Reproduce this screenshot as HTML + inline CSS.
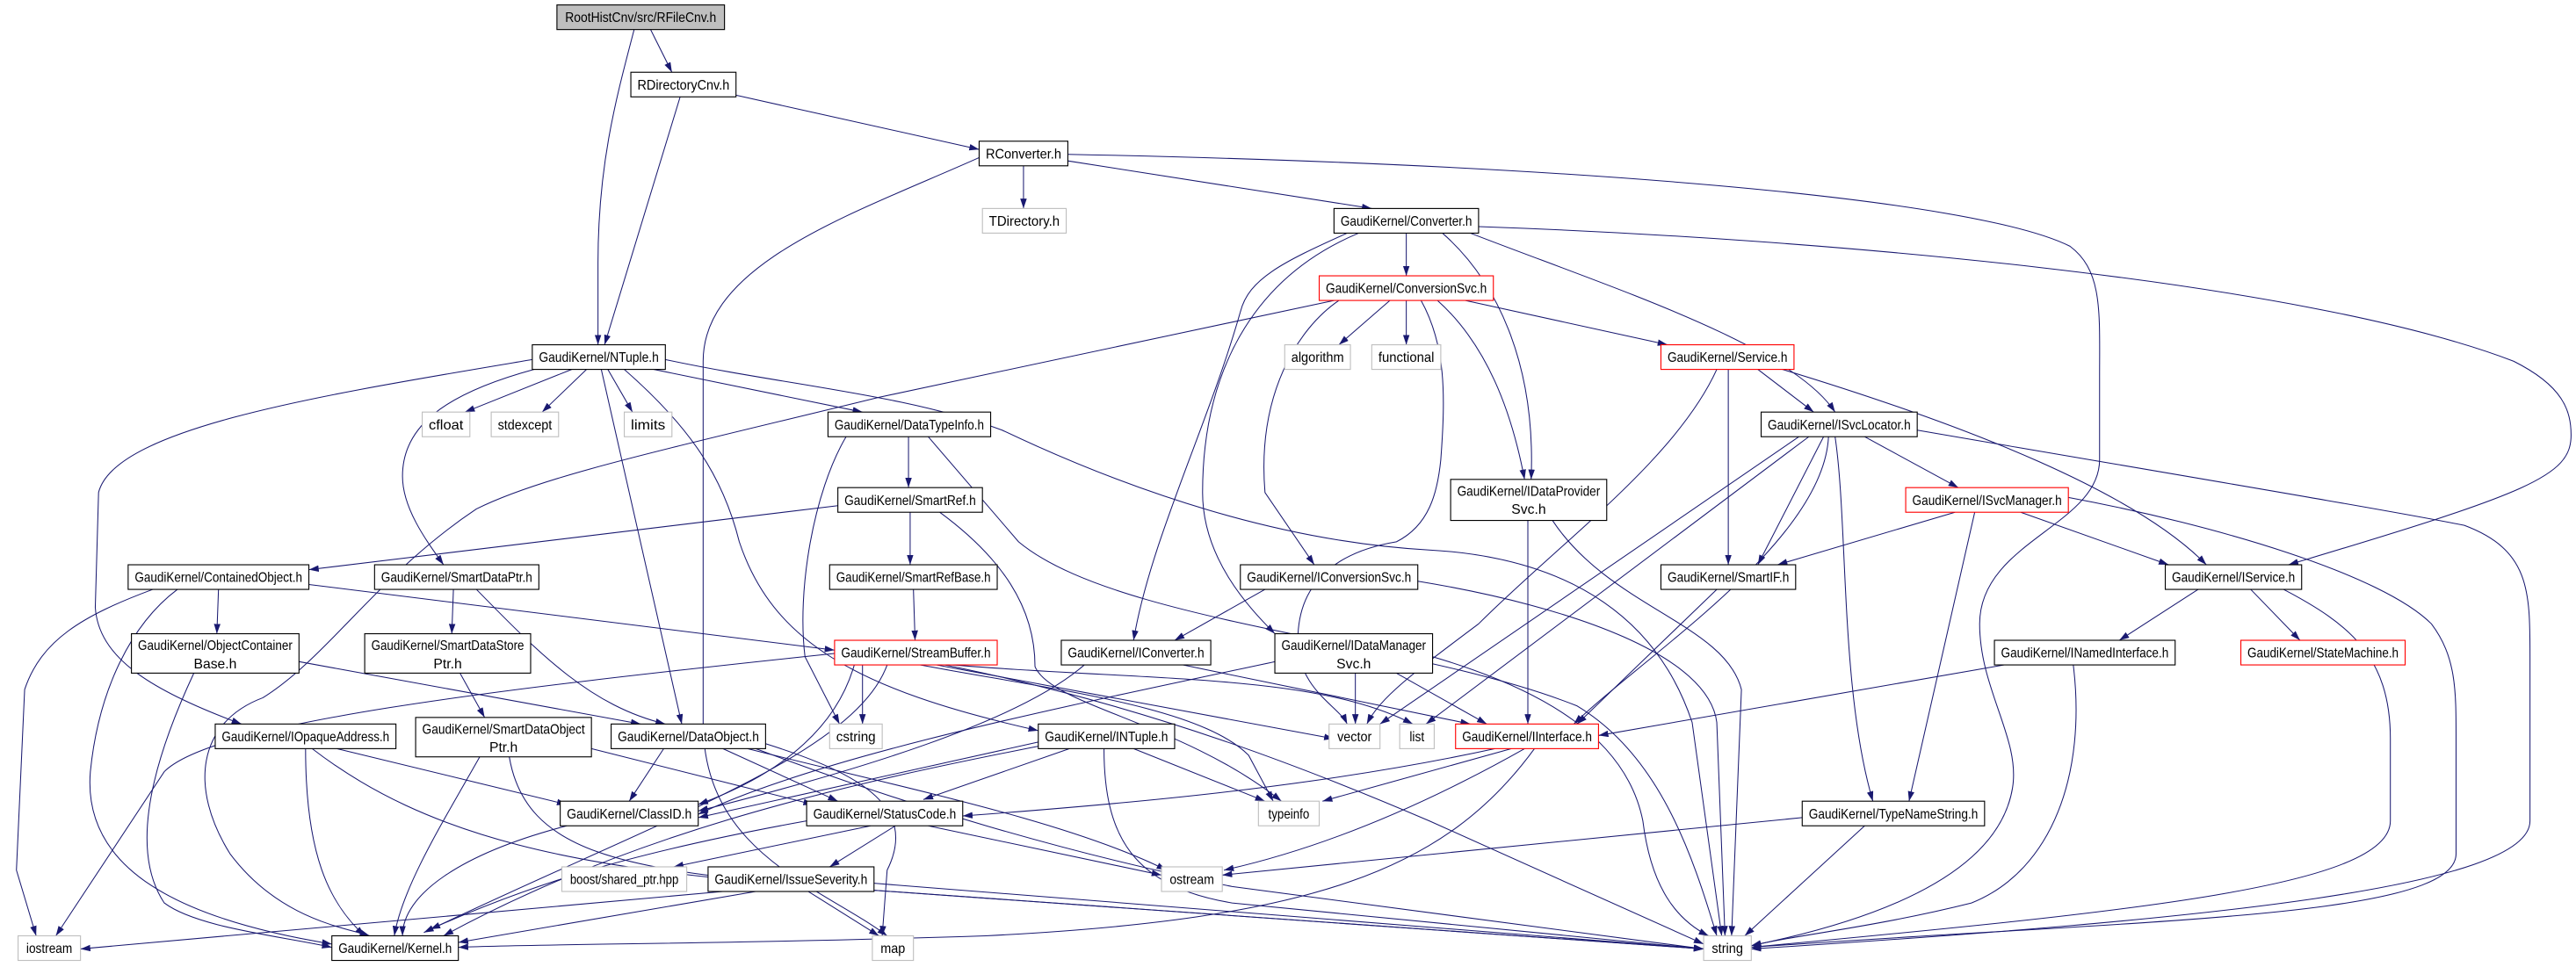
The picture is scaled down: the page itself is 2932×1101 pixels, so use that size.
<!DOCTYPE html>
<html><head><meta charset="utf-8"><style>
html,body{margin:0;padding:0;background:#fff;width:2932px;height:1101px;overflow:hidden}
svg{display:block}
text{font-family:"Liberation Sans",sans-serif;font-size:8.4px;fill:#000;text-anchor:middle}
.e path{fill:none;stroke:#191970;stroke-width:0.55}
rect{stroke-width:0.6}
.b{fill:#fff;stroke:#000}.g{fill:#fff;stroke:#bfbfbf}.r{fill:#fff;stroke:#ff0000}.s{fill:#bfbfbf;stroke:#000}
</style></head><body>
<svg width="2932" height="1101" viewBox="0 0 1568 589" preserveAspectRatio="none" xmlns="http://www.w3.org/2000/svg">
<defs><marker id="a" markerUnits="userSpaceOnUse" markerWidth="6" markerHeight="4" refX="6" refY="2" orient="auto"><path d="M0,0 L6,2 L0,4 z" fill="#191970"/></marker></defs>
<g class="e" marker-end="url(#a)">
<path d="M396 18 L409 44" marker-end="url(#a)"/>
<path d="M386 18 C375 60,364 100,364 160 L364 210" marker-end="url(#a)"/>
<path d="M414 59 L368 210" marker-end="url(#a)"/>
<path d="M448 58 L596 91" marker-end="url(#a)"/>
<path d="M623 101 L623 127" marker-end="url(#a)"/>
<path d="M650 98 L835 127" marker-end="url(#a)"/>
<path d="M596 96 C520 130,428 160,428 220 L428 440 C428 520,500 540,540 570" marker-end="url(#a)"/>
<path d="M650 94 C950 100,1200 120,1260 150 C1280 165,1278 190,1278 230 L1278 280 C1278 320,1205 330,1205 380 C1205 420,1230 450,1225 480 C1215 540,1120 565,1066 576" marker-end="url(#a)"/>
<path d="M856 142 L856 168" marker-end="url(#a)"/>
<path d="M878 142 C910 170,935 220,932 292" marker-end="url(#a)"/>
<path d="M895 142 C980 175,1090 210,1117 251" marker-end="url(#a)"/>
<path d="M900 138 C1100 145,1400 170,1530 220 C1560 235,1565 250,1565 265 C1565 290,1540 300,1393 344" marker-end="url(#a)"/>
<path d="M820 142 C780 160,760 170,755 190 C735 260,700 330,690 390" marker-end="url(#a)"/>
<path d="M827 142 C760 170,732 230,732 300 C732 340,760 370,776 386" marker-end="url(#a)"/>
<path d="M846 183 L815 210" marker-end="url(#a)"/>
<path d="M856 183 L856 210" marker-end="url(#a)"/>
<path d="M892 183 L1015 210" marker-end="url(#a)"/>
<path d="M875 183 C905 210,920 250,928 292" marker-end="url(#a)"/>
<path d="M815 183 C790 200,765 240,770 300 L800 344" marker-end="url(#a)"/>
<path d="M812 183 L535 242 C400 275,330 290,290 310 C230 350,200 400,160 425 C120 440,115 480,140 520 C170 560,210 565,225 570" marker-end="url(#a)"/>
<path d="M865 183 C880 210,880 240,877 280 C875 300,870 320,850 330 C820 335,790 350,790 390 C790 420,815 430,820 441" marker-end="url(#a)"/>
<path d="M1070 225 L1104 251" marker-end="url(#a)"/>
<path d="M1052 225 L1052 344" marker-end="url(#a)"/>
<path d="M1085 225 C1200 260,1300 300,1343 344" marker-end="url(#a)"/>
<path d="M1045 225 C1020 280,950 330,900 380 C860 410,840 425,832 441" marker-end="url(#a)"/>
<path d="M348 225 L283 251" marker-end="url(#a)"/>
<path d="M357 225 L330 251" marker-end="url(#a)"/>
<path d="M370 225 L385 251" marker-end="url(#a)"/>
<path d="M398 225 L525 251" marker-end="url(#a)"/>
<path d="M324 219 C200 240,70 260,60 300 L58 370 C60 400,90 420,147 441" marker-end="url(#a)"/>
<path d="M325 225 C270 240,245 260,245 290 C245 310,260 330,270 344" marker-end="url(#a)"/>
<path d="M366 225 L415 441" marker-end="url(#a)"/>
<path d="M380 225 C420 260,440 290,450 330 C470 390,520 420,632 445" marker-end="url(#a)"/>
<path d="M405 219 C480 235,550 240,610 262 C690 300,780 330,870 335 C960 340,1010 380,1030 440 L1048 570" marker-end="url(#a)"/>
<path d="M553 266 L553 297" marker-end="url(#a)"/>
<path d="M515 266 C495 300,485 360,490 400 L511 441" marker-end="url(#a)"/>
<path d="M565 266 L620 330 C680 380,860 390,960 430 C1010 460,1030 520,1045 570" marker-end="url(#a)"/>
<path d="M554 312 L554 344" marker-end="url(#a)"/>
<path d="M510 308 L188 347" marker-end="url(#a)"/>
<path d="M572 312 C610 340,630 370,630 406 C640 430,720 440,780 488" marker-end="url(#a)"/>
<path d="M556 359 L557 390" marker-end="url(#a)"/>
<path d="M133 359 L132 386" marker-end="url(#a)"/>
<path d="M188 356 L508 396" marker-end="url(#a)"/>
<path d="M93 359 C50 375,25 390,15 420 L10 530 L22 570" marker-end="url(#a)"/>
<path d="M108 359 C80 380,60 420,55 470 C50 530,110 560,202 575" marker-end="url(#a)"/>
<path d="M276 359 L275 386" marker-end="url(#a)"/>
<path d="M290 359 C330 400,360 430,405 441" marker-end="url(#a)"/>
<path d="M182 403 L390 441" marker-end="url(#a)"/>
<path d="M118 410 C90 470,80 520,100 550 C120 565,170 570,202 577" marker-end="url(#a)"/>
<path d="M280 410 L295 437" marker-end="url(#a)"/>
<path d="M292 461 C270 500,245 540,240 570" marker-end="url(#a)"/>
<path d="M310 461 C320 520,380 530,500 540 C700 555,900 570,1037 578" marker-end="url(#a)"/>
<path d="M360 456 L495 490" marker-end="url(#a)"/>
<path d="M508 398 C300 420,130 440,100 470 L34 570" marker-end="url(#a)"/>
<path d="M525 405 L525 441" marker-end="url(#a)"/>
<path d="M560 405 C640 420,730 430,760 460 L775 488" marker-end="url(#a)"/>
<path d="M570 405 L812 450" marker-end="url(#a)"/>
<path d="M580 405 C700 415,800 410,860 441" marker-end="url(#a)"/>
<path d="M575 405 C700 430,800 470,870 500 L1037 575" marker-end="url(#a)"/>
<path d="M540 405 C520 460,400 500,258 568" marker-end="url(#a)"/>
<path d="M520 405 C510 440,480 470,425 490" marker-end="url(#a)"/>
<path d="M720 405 L895 441" marker-end="url(#a)"/>
<path d="M660 405 C620 440,520 470,425 494" marker-end="url(#a)"/>
<path d="M770 359 L715 390" marker-end="url(#a)"/>
<path d="M863 354 C960 370,1040 400,1045 440 L1050 570" marker-end="url(#a)"/>
<path d="M930 317 L930 441" marker-end="url(#a)"/>
<path d="M945 317 C980 370,1050 380,1060 420 L1054 570" marker-end="url(#a)"/>
<path d="M825 410 L825 441" marker-end="url(#a)"/>
<path d="M850 410 L905 441" marker-end="url(#a)"/>
<path d="M872 400 C940 420,990 450,1000 500 C1005 540,1020 560,1040 570" marker-end="url(#a)"/>
<path d="M776 403 C650 430,500 460,425 496" marker-end="url(#a)"/>
<path d="M1095 266 L840 441" marker-end="url(#a)"/>
<path d="M1101 266 L868 441" marker-end="url(#a)"/>
<path d="M1110 266 L1070 344" marker-end="url(#a)"/>
<path d="M1113 266 C1110 330,1000 400,958 441" marker-end="url(#a)"/>
<path d="M1135 266 L1192 297" marker-end="url(#a)"/>
<path d="M1117 266 C1125 320,1120 420,1140 488" marker-end="url(#a)"/>
<path d="M1167 262 C1300 285,1450 310,1500 320 C1540 335,1540 360,1540 400 L1540 500 C1540 540,1350 560,1066 578" marker-end="url(#a)"/>
<path d="M1190 312 L1082 344" marker-end="url(#a)"/>
<path d="M1230 312 L1320 344" marker-end="url(#a)"/>
<path d="M1202 312 L1162 488" marker-end="url(#a)"/>
<path d="M1259 303 C1350 320,1450 350,1480 380 C1495 400,1495 420,1495 450 L1495 520 C1495 560,1300 560,1066 577" marker-end="url(#a)"/>
<path d="M1045 359 L960 441" marker-end="url(#a)"/>
<path d="M1338 359 L1290 390" marker-end="url(#a)"/>
<path d="M1370 359 L1400 390" marker-end="url(#a)"/>
<path d="M1390 359 C1430 380,1455 400,1455 450 L1455 500 C1455 540,1300 555,1066 577" marker-end="url(#a)"/>
<path d="M1220 405 L973 448" marker-end="url(#a)"/>
<path d="M1262 405 C1270 470,1250 530,1200 550 C1140 565,1090 570,1066 576" marker-end="url(#a)"/>
<path d="M205 456 L345 490" marker-end="url(#a)"/>
<path d="M186 456 C186 520,200 550,222 570" marker-end="url(#a)"/>
<path d="M190 456 C260 510,350 530,500 540 L1037 578" marker-end="url(#a)"/>
<path d="M404 456 L383 488" marker-end="url(#a)"/>
<path d="M440 456 L510 488" marker-end="url(#a)"/>
<path d="M455 456 C550 480,650 500,710 530" marker-end="url(#a)"/>
<path d="M460 456 C550 490,650 520,750 540 L1037 578" marker-end="url(#a)"/>
<path d="M466 453 C520 470,560 490,540 530 L537 570" marker-end="url(#a)"/>
<path d="M651 456 L562 487" marker-end="url(#a)"/>
<path d="M690 456 L770 488" marker-end="url(#a)"/>
<path d="M672 456 C672 510,690 540,750 550 L1037 578" marker-end="url(#a)"/>
<path d="M640 453 C500 480,380 510,270 570" marker-end="url(#a)"/>
<path d="M632 452 L425 498" marker-end="url(#a)"/>
<path d="M910 456 C800 480,680 490,586 497" marker-end="url(#a)"/>
<path d="M920 456 L805 488" marker-end="url(#a)"/>
<path d="M928 456 C850 500,790 520,745 530" marker-end="url(#a)"/>
<path d="M934 456 C880 530,800 560,600 570 C450 575,320 575,279 577" marker-end="url(#a)"/>
<path d="M345 503 C280 520,245 545,245 570" marker-end="url(#a)"/>
<path d="M530 503 L410 528" marker-end="url(#a)"/>
<path d="M545 503 L505 528" marker-end="url(#a)"/>
<path d="M565 503 L707 533" marker-end="url(#a)"/>
<path d="M491 500 C380 520,320 540,262 566" marker-end="url(#a)"/>
<path d="M440 543 L49 578" marker-end="url(#a)"/>
<path d="M460 543 L279 574" marker-end="url(#a)"/>
<path d="M492 543 L535 570" marker-end="url(#a)"/>
<path d="M532 538 L1037 578" marker-end="url(#a)"/>
<path d="M1097 498 L744 533" marker-end="url(#a)"/>
<path d="M1135 503 L1062 570" marker-end="url(#a)"/>
</g>
<g>
<rect class="s" x="339" y="3" width="102" height="15"/><text x="390" y="13.5" textLength="92" lengthAdjust="spacingAndGlyphs">RootHistCnv/src/RFileCnv.h</text>
<rect class="b" x="384" y="44" width="64" height="15"/><text x="416" y="54.5" textLength="56" lengthAdjust="spacingAndGlyphs">RDirectoryCnv.h</text>
<rect class="b" x="596" y="86" width="54" height="15"/><text x="623" y="96.5" textLength="46" lengthAdjust="spacingAndGlyphs">RConverter.h</text>
<rect class="g" x="598" y="127" width="51" height="15"/><text x="623.5" y="137.5" textLength="43" lengthAdjust="spacingAndGlyphs">TDirectory.h</text>
<rect class="b" x="812" y="127" width="88" height="15"/><text x="856" y="137.5" textLength="80" lengthAdjust="spacingAndGlyphs">GaudiKernel/Converter.h</text>
<rect class="r" x="803" y="168" width="106" height="15"/><text x="856" y="178.5" textLength="98" lengthAdjust="spacingAndGlyphs">GaudiKernel/ConversionSvc.h</text>
<rect class="g" x="782" y="210" width="40" height="15"/><text x="802" y="220.5" textLength="32" lengthAdjust="spacingAndGlyphs">algorithm</text>
<rect class="g" x="835" y="210" width="42" height="15"/><text x="856" y="220.5" textLength="34" lengthAdjust="spacingAndGlyphs">functional</text>
<rect class="r" x="1011" y="210" width="81" height="15"/><text x="1051.5" y="220.5" textLength="73" lengthAdjust="spacingAndGlyphs">GaudiKernel/Service.h</text>
<rect class="b" x="324" y="210" width="81" height="15"/><text x="364.5" y="220.5" textLength="73" lengthAdjust="spacingAndGlyphs">GaudiKernel/NTuple.h</text>
<rect class="g" x="257" y="251" width="29" height="15"/><text x="271.5" y="261.5" textLength="21" lengthAdjust="spacingAndGlyphs">cfloat</text>
<rect class="g" x="299" y="251" width="41" height="15"/><text x="319.5" y="261.5" textLength="33" lengthAdjust="spacingAndGlyphs">stdexcept</text>
<rect class="g" x="380" y="251" width="29" height="15"/><text x="394.5" y="261.5" textLength="21" lengthAdjust="spacingAndGlyphs">limits</text>
<rect class="b" x="504" y="251" width="99" height="15"/><text x="553.5" y="261.5" textLength="91" lengthAdjust="spacingAndGlyphs">GaudiKernel/DataTypeInfo.h</text>
<rect class="b" x="1072" y="251" width="95" height="15"/><text x="1119.5" y="261.5" textLength="87" lengthAdjust="spacingAndGlyphs">GaudiKernel/ISvcLocator.h</text>
<rect class="b" x="883" y="292" width="95" height="25"/><text x="930.5" y="302" textLength="87" lengthAdjust="spacingAndGlyphs">GaudiKernel/IDataProvider</text><text x="930.5" y="313">Svc.h</text>
<rect class="b" x="510" y="297" width="88" height="15"/><text x="554" y="307.5" textLength="80" lengthAdjust="spacingAndGlyphs">GaudiKernel/SmartRef.h</text>
<rect class="r" x="1160" y="297" width="99" height="15"/><text x="1209.5" y="307.5" textLength="91" lengthAdjust="spacingAndGlyphs">GaudiKernel/ISvcManager.h</text>
<rect class="b" x="78" y="344" width="110" height="15"/><text x="133" y="354.5" textLength="102" lengthAdjust="spacingAndGlyphs">GaudiKernel/ContainedObject.h</text>
<rect class="b" x="228" y="344" width="100" height="15"/><text x="278" y="354.5" textLength="92" lengthAdjust="spacingAndGlyphs">GaudiKernel/SmartDataPtr.h</text>
<rect class="b" x="505" y="344" width="102" height="15"/><text x="556" y="354.5" textLength="94" lengthAdjust="spacingAndGlyphs">GaudiKernel/SmartRefBase.h</text>
<rect class="b" x="755" y="344" width="108" height="15"/><text x="809" y="354.5" textLength="100" lengthAdjust="spacingAndGlyphs">GaudiKernel/IConversionSvc.h</text>
<rect class="b" x="1011" y="344" width="82" height="15"/><text x="1052" y="354.5" textLength="74" lengthAdjust="spacingAndGlyphs">GaudiKernel/SmartIF.h</text>
<rect class="b" x="1318" y="344" width="83" height="15"/><text x="1359.5" y="354.5" textLength="75" lengthAdjust="spacingAndGlyphs">GaudiKernel/IService.h</text>
<rect class="b" x="80" y="386" width="102" height="24"/><text x="131" y="396" textLength="94" lengthAdjust="spacingAndGlyphs">GaudiKernel/ObjectContainer</text><text x="131" y="407">Base.h</text>
<rect class="b" x="222" y="386" width="101" height="24"/><text x="272.5" y="396" textLength="93" lengthAdjust="spacingAndGlyphs">GaudiKernel/SmartDataStore</text><text x="272.5" y="407">Ptr.h</text>
<rect class="r" x="508" y="390" width="99" height="15"/><text x="557.5" y="400.5" textLength="91" lengthAdjust="spacingAndGlyphs">GaudiKernel/StreamBuffer.h</text>
<rect class="b" x="646" y="390" width="91" height="15"/><text x="691.5" y="400.5" textLength="83" lengthAdjust="spacingAndGlyphs">GaudiKernel/IConverter.h</text>
<rect class="b" x="776" y="386" width="96" height="24"/><text x="824" y="396" textLength="88" lengthAdjust="spacingAndGlyphs">GaudiKernel/IDataManager</text><text x="824" y="407">Svc.h</text>
<rect class="b" x="1214" y="390" width="110" height="15"/><text x="1269" y="400.5" textLength="102" lengthAdjust="spacingAndGlyphs">GaudiKernel/INamedInterface.h</text>
<rect class="r" x="1364" y="390" width="100" height="15"/><text x="1414" y="400.5" textLength="92" lengthAdjust="spacingAndGlyphs">GaudiKernel/StateMachine.h</text>
<rect class="b" x="131" y="441" width="110" height="15"/><text x="186" y="451.5" textLength="102" lengthAdjust="spacingAndGlyphs">GaudiKernel/IOpaqueAddress.h</text>
<rect class="b" x="253" y="437" width="107" height="24"/><text x="306.5" y="447" textLength="99" lengthAdjust="spacingAndGlyphs">GaudiKernel/SmartDataObject</text><text x="306.5" y="458">Ptr.h</text>
<rect class="b" x="372" y="441" width="94" height="15"/><text x="419" y="451.5" textLength="86" lengthAdjust="spacingAndGlyphs">GaudiKernel/DataObject.h</text>
<rect class="g" x="505" y="441" width="32" height="15"/><text x="521" y="451.5" textLength="24" lengthAdjust="spacingAndGlyphs">cstring</text>
<rect class="b" x="632" y="441" width="83" height="15"/><text x="673.5" y="451.5" textLength="75" lengthAdjust="spacingAndGlyphs">GaudiKernel/INTuple.h</text>
<rect class="g" x="809" y="441" width="31" height="15"/><text x="824.5" y="451.5" textLength="21" lengthAdjust="spacingAndGlyphs">vector</text>
<rect class="g" x="852" y="441" width="21" height="15"/><text x="862.5" y="451.5" textLength="9" lengthAdjust="spacingAndGlyphs">list</text>
<rect class="r" x="886" y="441" width="87" height="15"/><text x="929.5" y="451.5" textLength="79" lengthAdjust="spacingAndGlyphs">GaudiKernel/IInterface.h</text>
<rect class="b" x="341" y="488" width="84" height="15"/><text x="383" y="498.5" textLength="76" lengthAdjust="spacingAndGlyphs">GaudiKernel/ClassID.h</text>
<rect class="b" x="491" y="488" width="95" height="15"/><text x="538.5" y="498.5" textLength="87" lengthAdjust="spacingAndGlyphs">GaudiKernel/StatusCode.h</text>
<rect class="g" x="766" y="488" width="37" height="15"/><text x="784.5" y="498.5" textLength="25" lengthAdjust="spacingAndGlyphs">typeinfo</text>
<rect class="b" x="1097" y="488" width="111" height="15"/><text x="1152.5" y="498.5" textLength="103" lengthAdjust="spacingAndGlyphs">GaudiKernel/TypeNameString.h</text>
<rect class="g" x="342" y="528" width="76" height="15"/><text x="380" y="538.5" textLength="66" lengthAdjust="spacingAndGlyphs">boost/shared_ptr.hpp</text>
<rect class="b" x="431" y="528" width="101" height="15"/><text x="481.5" y="538.5" textLength="93" lengthAdjust="spacingAndGlyphs">GaudiKernel/IssueSeverity.h</text>
<rect class="g" x="707" y="528" width="37" height="15"/><text x="725.5" y="538.5" textLength="27" lengthAdjust="spacingAndGlyphs">ostream</text>
<rect class="g" x="11" y="570" width="38" height="15"/><text x="30" y="580.5" textLength="28" lengthAdjust="spacingAndGlyphs">iostream</text>
<rect class="b" x="202" y="570" width="77" height="15"/><text x="240.5" y="580.5" textLength="69" lengthAdjust="spacingAndGlyphs">GaudiKernel/Kernel.h</text>
<rect class="g" x="531" y="570" width="25" height="15"/><text x="543.5" y="580.5" textLength="15" lengthAdjust="spacingAndGlyphs">map</text>
<rect class="g" x="1037" y="570" width="29" height="15"/><text x="1051.5" y="580.5" textLength="19" lengthAdjust="spacingAndGlyphs">string</text>
</g>
</svg>
</body></html>
